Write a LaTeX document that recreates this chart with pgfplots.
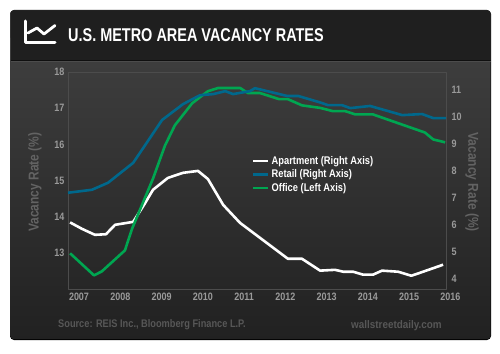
\documentclass[border=0pt]{standalone}
\usepackage{fontspec}
\setmainfont[FakeStretch=0.84]{Liberation Sans}
\usepackage{pgfplots}
\pgfplotsset{compat=1.18}
\definecolor{ablue}{HTML}{00688C}
\definecolor{agreen}{HTML}{00A651}
\definecolor{tickgray}{HTML}{9A9A9A}
\definecolor{labgray}{HTML}{636363}
\definecolor{frame}{HTML}{4C4C4C}
\pgfplotsset{
  base/.style={
    at={(68pt,-289.5pt)}, anchor=south west,
    width=378pt, height=217.5pt, scale only axis,
    xmin=2007, xmax=2016.16,
    clip=false,
    major tick length=0pt,
    tick style={draw=none},
    /pgf/number format/assume math mode=true,
    /pgf/number format/1000 sep={},
    tick label style={font=\fontsize{10.7}{12}\selectfont\bfseries, text=tickgray},
    line join=round,
  },
  rightaxis/.style={ymin=3.6, ymax=11.67},
  leftaxis/.style={ymin=12, ymax=18},
}
\begin{document}
\begin{tikzpicture}[x=1pt,y=-1pt]
\fill[white] (0,0) rectangle (500,353);
% panel
\fill[black, rounded corners=4pt] (10,10) rectangle (491,340);
\fill[rounded corners=3pt, top color=black!74, bottom color=black!87] (10.5,10.5) rectangle (490.5,339);
\fill[black!88, rounded corners=3pt] (10.5,10.5) rectangle (490.5,40);
\fill[black!88] (10.5,30) rectangle (490.5,60);
\draw[black!94, line width=1pt] (10.5,60) -- (490.5,60);
\draw[black!70, line width=0.6pt] (10.5,61) -- (490.5,61);
% icon
\draw[white, line width=3pt, line cap=round, line join=round] (25.5,21) -- (25.5,43) -- (55,43);
\draw[white, line width=2.8pt, line cap=round, line join=round] (28,33) -- (37,28) -- (44,34) -- (55,25.5);
% title
\node[anchor=west, text=white, font=\fontsize{18.5}{20}\selectfont\bfseries, inner sep=0pt, xscale=0.93] at (68,35) {U.S. METRO AREA VACANCY RATES};
% footer
\node[anchor=west, text=black!66, font=\fontsize{11}{12}\selectfont\bfseries, inner sep=0pt] at (58,325) {Source: REIS Inc., Bloomberg Finance L.P.};
\node[anchor=west, text=black!66, font=\fontsize{11}{12}\selectfont\bfseries, inner sep=0pt, xscale=1.07] at (351,326) {wallstreetdaily.com};

% white series, right axis and frame
\begin{axis}[base, rightaxis,
  axis line style={frame, line width=0.9pt},
  xtick={2007,2008,...,2016},
  x tick label style={xshift=11pt},
  ytick={4,5,6,7,8,9,10,11},
  y tick label style={xshift=2pt},
  yticklabel pos=right,
  ylabel={Vacancy Rate (\%)},
  ylabel near ticks,
  y label style={at={(rel axis cs:1,0.494)}, anchor=center, rotate=180, yshift=26pt,
    font=\fontsize{14.3}{15}\selectfont\bfseries, text=labgray},
]
\addplot[white, line width=2.6pt] coordinates {
(2007.05,6.09)(2007.34,5.85)(2007.65,5.63)(2007.92,5.65)(2008.14,6.00)(2008.58,6.11)
(2008.87,6.81)(2009.06,7.30)(2009.42,7.74)(2009.79,7.93)(2010.15,8.00)(2010.39,7.70)
(2010.76,6.74)(2011.17,6.07)(2012.33,4.74)(2012.67,4.74)(2013.11,4.30)(2013.47,4.33)
(2013.67,4.26)(2013.91,4.26)(2014.15,4.15)(2014.39,4.15)(2014.61,4.30)(2015.00,4.26)
(2015.32,4.11)(2015.53,4.22)(2016.09,4.52)};
\end{axis}

% green series, left axis
\begin{axis}[base, leftaxis,
  axis x line=none, axis y line*=left,
  axis line style={draw=none},
  ytick={13,14,15,16,17,18},
  ylabel={Vacancy Rate (\%)},
  y label style={at={(rel axis cs:0,0.494)}, anchor=center, yshift=33pt,
    font=\fontsize{14.3}{15}\selectfont\bfseries, text=labgray},
]
\addplot[agreen, line width=2.6pt] coordinates {
(2007.05,13.00)(2007.63,12.39)(2007.82,12.50)(2008.38,13.08)(2008.55,13.67)(2009.06,15.06)
(2009.35,15.97)(2009.59,16.53)(2010.01,17.14)(2010.39,17.47)(2010.64,17.56)(2011.17,17.56)
(2011.36,17.42)(2011.65,17.42)(2012.12,17.25)(2012.33,17.25)(2012.67,17.08)(2013.11,17.01)
(2013.42,16.92)(2013.72,16.92)(2013.96,16.83)(2014.39,16.83)(2015.65,16.33)(2015.85,16.14)
(2016.14,16.06)};
\end{axis}

% blue series, right scale, and the legend
\begin{axis}[base, rightaxis, hide axis,
  legend cell align=left,
  legend style={at={(0.487,0.622)}, anchor=north west, fill=none, draw=none,
    text=white, font=\fontsize{11.1}{12}\selectfont\bfseries, inner sep=0pt, outer sep=0pt,
    row sep=0pt, /tikz/every even column/.append style={column sep=3pt}},
  legend image code/.code={\draw[#1, line width=2.6pt] (0pt,0pt) -- (15pt,0pt);},
]
\addlegendimage{white}
\addlegendentry{Apartment (Right Axis)}
\addlegendimage{ablue}
\addlegendentry{Retail (Right Axis)}
\addlegendimage{agreen}
\addlegendentry{Office (Left Axis)}
\addplot[ablue, line width=2.6pt, forget plot] coordinates {
(2007.00,7.19)(2007.58,7.30)(2007.97,7.56)(2008.58,8.30)(2009.28,9.89)(2009.79,10.48)
(2010.20,10.81)(2010.52,10.85)(2010.81,10.96)(2011.00,10.85)(2011.41,10.96)(2011.53,11.07)
(2012.31,10.78)(2012.58,10.78)(2013.11,10.54)(2013.30,10.44)(2013.64,10.44)(2013.84,10.33)
(2014.32,10.41)(2015.10,10.07)(2015.58,10.11)(2015.85,9.96)(2016.16,9.96)};
\end{axis}
\end{tikzpicture}
\end{document}
